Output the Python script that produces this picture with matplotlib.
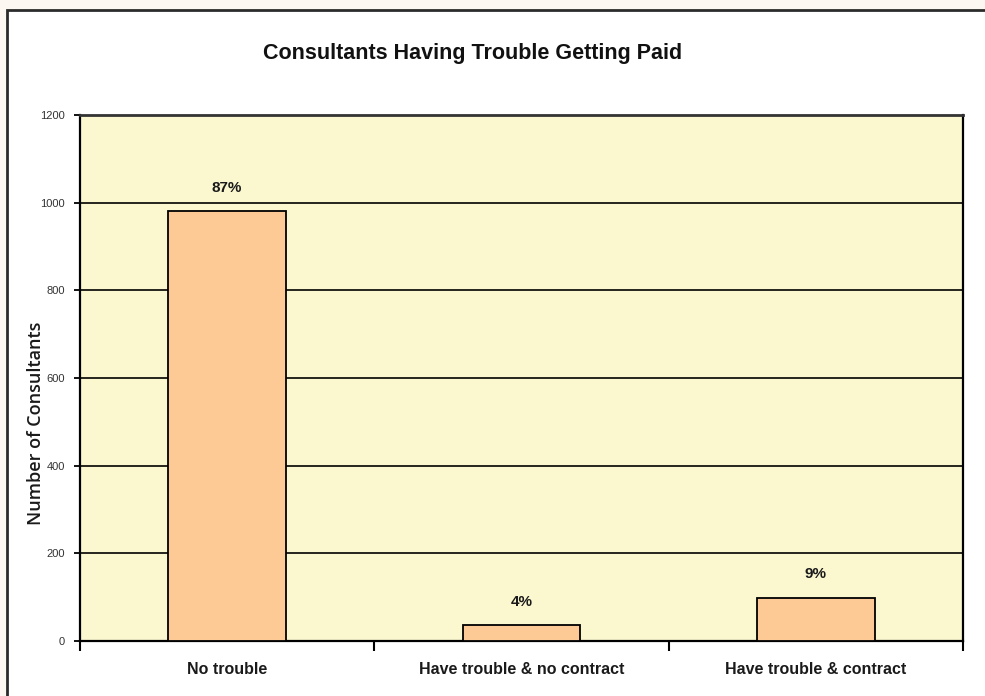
import matplotlib
matplotlib.use("Agg")
import matplotlib.pyplot as plt
from matplotlib.patches import Rectangle
import numpy as np

# survey counts
categories = ["No trouble", "Have trouble & no contract", "Have trouble & contract"]
counts = [980, 36, 99]
pct_labels = ["87%", "4%", "9%"]
yticks = [0, 200, 400, 600, 800, 1000, 1200]

W, H = 985, 696
fig = plt.figure(figsize=(W / 100, H / 100), dpi=100, facecolor="#fcf7f1")

# white chart panel with dark border
panel = Rectangle((7 / W, -0.05), 1.1, 1 - 10 / H + 0.05, transform=fig.transFigure,
                  facecolor="white", edgecolor="#2b2b2b", lw=2, zorder=-10)
fig.patches.append(panel)

ax = fig.add_axes([80 / W, (H - 641) / H, (963 - 80) / W, (641 - 115) / H])
ax.set_facecolor("#fbf8d0")

x = np.arange(len(categories)) + 0.5
ax.bar(x, counts, width=0.4, color="#fdc995", edgecolor="black", lw=1.3, zorder=3)

for xi, c, lab in zip(x, counts, pct_labels):
    ax.annotate(lab, (xi, c), xytext=(0, 12), textcoords="offset points",
                ha="center", va="bottom", fontsize=11, fontweight="bold",
                family="Liberation Sans", color="#1a1a1a")

ax.set_xlim(0, 3)
ax.set_ylim(0, 1200)
ax.set_yticks(yticks)
ax.set_yticklabels([str(t) for t in yticks], fontsize=8, family="Liberation Sans", color="#333333")
ax.yaxis.grid(True, color="black", lw=1.2, zorder=1)
ax.set_axisbelow(True)

# category boundary ticks on x, labels at centers
ax.set_xticks([0, 1, 2, 3])
ax.set_xticklabels([])
ax.set_xticks(x, minor=True)
ax.set_xticklabels(categories, minor=True, fontsize=11.5, fontweight="bold",
                   family="Liberation Sans", color="#1a1a1a")
ax.tick_params(axis="x", which="major", length=7, width=1.5, direction="out")
ax.tick_params(axis="x", which="minor", length=0, pad=15)
ax.tick_params(axis="y", length=4, width=1.3, direction="out", pad=7)

for s in ["left", "bottom", "right"]:
    ax.spines[s].set_linewidth(1.6)
    ax.spines[s].set_color("black")
ax.spines["top"].set_linewidth(2)
ax.spines["top"].set_color("#333333")

ax.set_ylabel("Number of Consultants", fontsize=13, family="Open Sans",
              fontweight="semibold", color="#1a1a1a")
ax.yaxis.set_label_coords(-(80 - 45) / (963 - 80), (641 - 423) / (641 - 115))

fig.text(473 / W, 1 - 54 / H, "Consultants Having Trouble Getting Paid",
         ha="center", va="center", fontsize=15.5, fontweight="bold",
         family="Liberation Sans", color="#111111")

fig.savefig("out.png", dpi=100, facecolor=fig.get_facecolor())
